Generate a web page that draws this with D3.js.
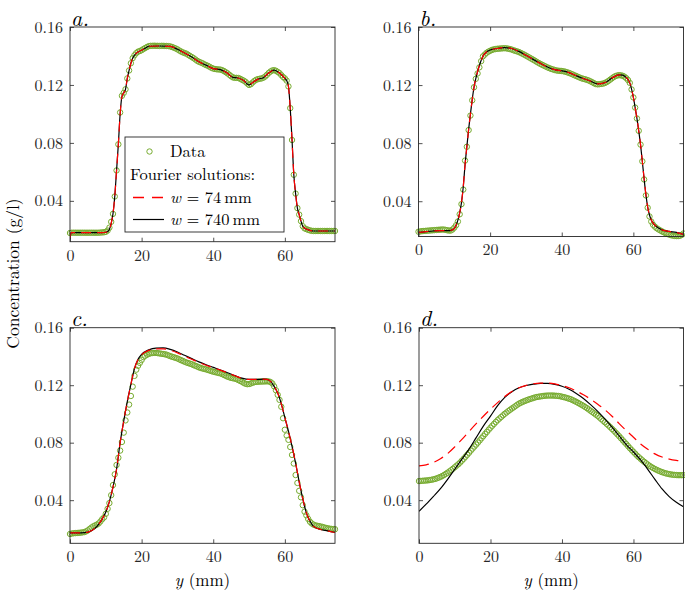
<!DOCTYPE html>
<html><head><meta charset="utf-8">
<script src="https://cdn.jsdelivr.net/npm/d3@7"></script>
<style>body{margin:0;background:#fff} svg{display:block}</style>
</head><body><svg id="fig" width="685" height="590"></svg>
<script>
// sampling positions (mm) of the measured profiles
const samplePositionsMm = d3.range(0, 74.001, 0.5);
const xTicks = [0, 20, 40, 60];
const yTicks = [0.04, 0.08, 0.12, 0.16];
const panelLetters = ["a.", "b.", "c.", "d."];
const legendLabels = ["Data", "Fourier solutions:", "74", "740"];

// measured concentration (g/l), one value per sample position
const dataA = [
.0178,.018,.018,.018,.018,.018,.018,.018,.018,.018,
.018,.018,.018,.018,.018,.018,.018,.0181,.0182,.0183,
.0186,.0195,.0215,.0255,.031,.043,.061,.079,.101,.1125,
.1145,.117,.1245,.130,.135,.1385,.1405,.142,.143,.1434,
.144,.1448,.1455,.1462,.1468,.147,.147,.1471,.147,.147,
.1469,.147,.147,.1469,.1469,.1468,.1466,.1462,.1457,.1452,
.1446,.1438,.1431,.1425,.142,.1416,.1408,.14,.1393,.1385,
.1376,.1367,.136,.1355,.135,.1343,.1337,.1332,.1325,.1318,
.1313,.131,.1308,.1307,.1306,.1302,.1296,.1288,.128,.127,
.126,.1252,.1249,.1249,.1248,.1243,.1236,.123,.1222,.121,
.12,.1205,.1217,.1228,.1236,.124,.1243,.1245,.125,.1258,
.127,.1283,.1293,.13,.1302,.1298,.129,.1282,.1268,.1255,
.1245,.123,.119,.104,.082,.058,.045,.035,.0305,.026,
.0225,.021,.0205,.02,.0196,.0193,.0192,.0192,.0192,.0192,
.0192,.0192,.0192,.0192,.0192,.0192,.0192,.0192,.0192];
const dataB = [
.019,.0192,.0194,.0195,.0196,.0197,.0198,.0199,.02,.0201,
.0202,.0203,.0204,.0205,.0205,.0203,.02,.0198,.0198,.0205,
.0218,.0235,.026,.031,.038,.048,.068,.0775,.089,.099,
.1095,.1185,.1243,.128,.1322,.1365,.1398,.141,.1422,.143,
.1436,.1442,.1446,.1448,.145,.1451,.1452,.1453,.1454,.1453,
.1451,.1448,.1445,.144,.1436,.1432,.1428,.1422,.1416,.141,
.1403,.1396,.1389,.1382,.1375,.1368,.136,.1353,.1346,.134,
.1334,.1328,.1322,.1317,.1312,.1308,.1304,.1301,.1299,.1298,
.1297,.1295,.1292,.1288,.1284,.1279,.1274,.1268,.1263,.1257,
.1252,.1247,.1243,.124,.1236,.1232,.1226,.122,.1213,.1207,
.1205,.1206,.1208,.121,.1214,.122,.1228,.1237,.1246,.1255,
.1262,.1266,.1268,.1267,.1264,.1258,.1248,.1235,.1215,.117,
.1115,.1045,.097,.0885,.079,.0675,.055,.044,.0355,.0295,
.026,.0238,.0225,.0214,.0206,.0199,.0192,.0186,.018,.0175,
.017,.0166,.0163,.0161,.016,.016,.0162,.0168,.0178];
const dataC = [
.0165,.0168,.017,.0171,.0172,.0173,.0174,.0176,.0178,.0183,
.019,.02,.021,.0218,.0224,.023,.0238,.0252,.0268,.028,
.0305,.034,.038,.0435,.0505,.058,.0645,.0695,.0745,.0805,
.087,.0955,.101,.1065,.1125,.119,.1265,.1308,.1335,.1355,
.1375,.1395,.1405,.1412,.1418,.1422,.1424,.1425,.1425,.1423,
.1421,.1419,.1417,.1415,.1412,.1407,.1402,.1398,.1394,.139,
.1386,.138,.1374,.1369,.1363,.1358,.1354,.135,.1346,.134,
.1335,.133,.1324,.132,.1316,.1313,.131,.1306,.1302,.1298,
.1294,.1291,.1288,.1285,.1282,.1277,.1271,.1265,.1259,.1255,
.1251,.1248,.1246,.1242,.1236,.123,.1224,.1216,.121,.1207,
.1208,.1212,.1217,.1221,.1223,.1224,.1225,.1225,.1226,.1226,
.1227,.1226,.1222,.1212,.1192,.1165,.1133,.1098,.105,.097,
.089,.085,.082,.077,.0715,.0655,.0575,.052,.0465,.042,
.0365,.032,.0295,.027,.025,.0238,.023,.0225,.0222,.022,
.0217,.0214,.021,.0207,.0204,.0202,.02,.0199,.0198];
const dataD = [
.0533,.0534,.0535,.0536,.0537,.0538,.054,.0542,.0545,.0548,
.0552,.0557,.0562,.0568,.0575,.0583,.0591,.06,.0609,.0619,
.0629,.064,.065,.0662,.0675,.0688,.0702,.0716,.073,.0745,
.0759,.0773,.0787,.0801,.0816,.0831,.0846,.0861,.0875,.089,
.0904,.0918,.0931,.0944,.0957,.0968,.0979,.099,.1001,.101,
.102,.1029,.1038,.1046,.1055,.1064,.1072,.1078,.1084,.1089,
.1094,.1099,.1103,.1107,.1111,.1115,.1118,.112,.1122,.1124,
.1126,.1127,.1128,.1128,.1128,.1128,.1127,.1126,.1125,.1123,
.112,.1117,.1114,.111,.1106,.1102,.1096,.109,.1084,.1077,
.107,.1063,.1056,.1048,.104,.1031,.1022,.1013,.1004,.0995,
.0986,.0975,.0964,.0953,.0942,.0931,.092,.0908,.0896,.0884,
.0871,.0858,.0845,.0831,.0817,.0803,.079,.0776,.0762,.0749,
.0736,.0723,.071,.0699,.0688,.0677,.0667,.0657,.0648,.0639,
.0631,.0624,.0617,.0611,.0605,.06,.0595,.0591,.0587,.0584,
.0581,.0579,.0577,.0576,.0575,.0574,.0574,.0574,.0574];

// Fourier solutions, [y (mm), concentration] knots
// panels a and b: w = 74 mm and w = 740 mm coincide
const fitA = [[0,.014],[0.3,.018],[1,.018],[9,.018],[10,.0183],[10.8,.0195],[11.5,.0245],[12,.031],[12.5,.043],[13,.061],[13.5,.079],[14,.1],[14.5,.112],[15,.1145],[15.5,.117],[16,.1245],[16.5,.13],[17,.135],[17.5,.1385],[18,.1405],[19,.1428],[20,.144],[21,.1453],[22,.1467],[25,.1469],[28,.1466],[30,.1446],[32,.142],[34,.1393],[36,.136],[38,.1337],[40,.1313],[42,.1306],[44,.128],[45.5,.1252],[47,.1248],[48.5,.123],[50,.12],[51,.1217],[52.5,.124],[54,.125],[55.5,.1283],[57,.1302],[58.5,.1282],[60,.1245],[60.5,.123],[61,.119],[61.5,.104],[62,.082],[62.5,.058],[63,.045],[63.5,.035],[64,.0305],[64.5,.026],[65,.0225],[66,.0205],[67,.0196],[68,.0192],[74,.0192]];
const fitB = [[0,.0185],[2,.019],[4,.0195],[6,.0198],[8,.0197],[9.5,.0203],[10.5,.0235],[11,.027],[11.5,.032],[12,.039],[12.5,.05],[13,.065],[13.5,.0775],[14,.0895],[14.5,.1],[15,.11],[15.5,.1185],[16,.1245],[17,.1335],[18,.1398],[19,.1428],[20,.1442],[22,.1452],[24,.1458],[26,.1452],[28,.1432],[30,.1405],[32,.1377],[34,.135],[36,.1325],[38,.1306],[40,.1298],[42,.1286],[44,.1265],[46,.1245],[48,.1228],[50,.1208],[52,.1216],[54,.1248],[56,.127],[57,.1268],[58,.1252],[58.5,.1238],[59,.1215],[59.5,.1172],[60,.1115],[60.5,.1045],[61,.097],[61.5,.0885],[62,.079],[62.5,.0675],[63,.0555],[63.5,.0445],[64,.036],[64.5,.0305],[65,.027],[66,.0235],[67,.0215],[68,.0203],[70,.0192],[72,.0185],[74,.0172]];
const fitC74 = [[0,.0172],[3,.0173],[5,.0178],[7,.0205],[8,.0232],[9,.027],[10,.0318],[11,.039],[12,.049],[13,.0615],[14,.08],[15,.095],[16,.1085],[17,.1205],[18,.1315],[19,.138],[20,.1412],[22,.1442],[24,.1453],[26,.1453],[28,.1443],[30,.1425],[32,.1402],[34,.138],[36,.1358],[38,.1339],[40,.1322],[42,.1305],[44,.1286],[46,.1266],[48,.1248],[50,.124],[52,.124],[54,.1242],[55,.124],[56,.1227],[57,.1192],[58,.1145],[59,.107],[60,.0975],[61,.088],[62,.0775],[63,.0658],[64,.0528],[65,.041],[66,.0312],[67,.0255],[68,.0218],[70,.0196],[72,.0187],[74,.0175]];
const fitC740 = [[0,.0172],[3,.0173],[5,.0178],[7,.0205],[8,.0232],[9,.027],[10,.0318],[11,.039],[12,.049],[13,.0615],[14,.08],[15,.095],[16,.1085],[17,.1205],[18,.1315],[19,.138],[20,.1414],[22,.1446],[24,.1458],[26,.1459],[28,.1449],[30,.1431],[32,.1408],[34,.1385],[36,.1362],[38,.1342],[40,.1324],[42,.1306],[44,.1287],[46,.1267],[48,.1249],[50,.124],[52,.124],[54,.1242],[55,.124],[56,.1227],[57,.1192],[58,.1145],[59,.107],[60,.0975],[61,.088],[62,.0775],[63,.0658],[64,.0528],[65,.041],[66,.0312],[67,.0255],[68,.0218],[70,.0196],[72,.0187],[74,.0175]];
const fitD74 = [[0,.0639],[2,.0646],[4,.0662],[6,.0688],[8,.0724],[10,.0771],[12,.0823],[14,.0878],[16,.0932],[18,.0984],[20,.1033],[22,.1079],[24,.1121],[26,.1156],[28,.1182],[30,.1199],[32,.121],[34,.1214],[36,.1214],[38,.1209],[40,.1197],[42,.1182],[44,.116],[46,.1133],[48,.1103],[50,.1068],[52,.1029],[54,.0984],[56,.0933],[58,.0884],[60,.0838],[62,.0791],[64,.0754],[66,.0722],[68,.07],[70,.0686],[72,.0677],[74,.0671]];
const fitD740 = [[0,.0323],[2,.0372],[4,.0425],[6,.048],[8,.0545],[10,.0615],[12,.0685],[14,.0755],[16,.0835],[18,.0915],[20,.0985],[22,.1058],[24,.1115],[26,.1155],[28,.1182],[30,.1198],[32,.1207],[34,.1212],[36,.1212],[38,.1206],[40,.1193],[42,.1172],[44,.1143],[46,.1108],[48,.1065],[50,.1018],[52,.0965],[54,.0908],[56,.0848],[58,.0787],[60,.0735],[62,.068],[64,.0615],[66,.0545],[68,.0478],[70,.0425],[72,.0385],[74,.0354]];

const series = [
  {data: dataA, fit74: fitA, fit740: fitA},
  {data: dataB, fit74: fitB, fit740: fitB},
  {data: dataC, fit74: fitC74, fit740: fitC740},
  {data: dataD, fit74: fitD74, fit740: fitD740}
];

// layout
const frames = [
  {left: 70,  right: 335,   top: 27,    bottom: 241.7, ymin: 0.0118, xlabel: false, legend: true},
  {left: 418.5, right: 683.5, top: 27,  bottom: 236.5, ymin: 0.0157, xlabel: false, legend: false},
  {left: 70,  right: 335,   top: 327.7, bottom: 543.3, ymin: 0.0100, xlabel: true, legend: false},
  {left: 419, right: 683.5, top: 327.7, bottom: 543.3, ymin: 0.0100, xlabel: true, legend: false}
];

const FONT = '"Latin Modern Roman"';
const GREEN = "#77AC30", AXC = "#262626";
const svg = d3.select("#fig");
const T = (sel, size) => sel.style("font-family", FONT).style("font-size", size + "px");

frames.forEach((f, i) => {
  const s = series[i];
  const g = svg.append("g");
  const x = d3.scaleLinear().domain([0, 74]).range([f.left, f.right]);
  const y = d3.scaleLinear().domain([f.ymin, 0.16]).range([f.bottom, f.top]);
  const clipId = "clip" + i;
  g.append("clipPath").attr("id", clipId).append("rect")
    .attr("x", f.left).attr("y", f.top).attr("width", f.right - f.left).attr("height", f.bottom - f.top);

  // data markers
  g.append("g").selectAll("circle")
    .data(samplePositionsMm.map((m, k) => [m, s.data[k]]))
    .join("circle")
    .attr("cx", d => x(d[0])).attr("cy", d => y(d[1])).attr("r", 2.7)
    .attr("fill", "none").attr("stroke", GREEN).attr("stroke-width", 1);

  const line = d3.line().x(d => x(d[0])).y(d => y(d[1])).curve(d3.curveMonotoneX);
  const lg = g.append("g").attr("clip-path", `url(#${clipId})`);
  lg.append("path").attr("d", line(s.fit740)).attr("fill", "none")
    .attr("stroke", "#000").attr("stroke-width", 1.2);
  lg.append("path").attr("d", line(s.fit74)).attr("fill", "none")
    .attr("stroke", "#ff0000").attr("stroke-width", 1.2).attr("stroke-dasharray", "10,6");

  // axes (ticks inside, mirrored)
  const fmtY = d3.format(".2f");
  const styleAxis = sel => {
    sel.select(".domain").remove();
    sel.selectAll(".tick line").attr("stroke", AXC).attr("stroke-width", 0.8);
    sel.selectAll(".tick text").attr("fill", AXC).call(T, 16);
  };
  g.append("g").attr("transform", `translate(${f.left},0)`)
    .call(d3.axisLeft(y).tickValues(yTicks).tickFormat(fmtY).tickSizeInner(-4).tickSizeOuter(0).tickPadding(7))
    .call(styleAxis);
  g.append("g").attr("transform", `translate(${f.right},0)`)
    .call(d3.axisRight(y).tickValues(yTicks).tickFormat("").tickSizeInner(-4).tickSizeOuter(0))
    .call(styleAxis);
  g.append("g").attr("transform", `translate(0,${f.bottom})`)
    .call(d3.axisBottom(x).tickValues(xTicks).tickFormat(d3.format("d")).tickSizeInner(-4).tickSizeOuter(0).tickPadding(7.5))
    .call(styleAxis);
  g.append("g").attr("transform", `translate(0,${f.top})`)
    .call(d3.axisTop(x).tickValues(xTicks).tickFormat("").tickSizeInner(-4).tickSizeOuter(0))
    .call(styleAxis);
  g.append("rect").attr("x", f.left).attr("y", f.top)
    .attr("width", f.right - f.left).attr("height", f.bottom - f.top)
    .attr("fill", "none").attr("stroke", AXC).attr("stroke-width", 0.9);

  // panel letter
  g.append("text").attr("x", f.left + 1).attr("y", f.top - 1.5)
    .call(T, 22).style("font-style", "italic").attr("fill", "#000")
    .text(panelLetters[i]);

  if (f.xlabel) {
    const t = g.append("text").attr("x", (f.left + f.right) / 2).attr("y", 586)
      .attr("text-anchor", "middle").call(T, 17).attr("fill", "#000");
    t.append("tspan").style("font-style", "italic").text("y");
    t.append("tspan").text(" (mm)");
  }

  if (f.legend) {
    const L = {x: 125, y: 137, w: 159, h: 95};
    const lgd = g.append("g");
    lgd.append("rect").attr("x", L.x).attr("y", L.y).attr("width", L.w).attr("height", L.h)
      .attr("fill", "#fff").attr("stroke", AXC).attr("stroke-width", 0.9);
    lgd.append("circle").attr("cx", 149.5).attr("cy", 151.5).attr("r", 2.7)
      .attr("fill", "none").attr("stroke", GREEN).attr("stroke-width", 1);
    lgd.append("text").attr("x", 170).attr("y", 157).call(T, 16.5).text(legendLabels[0]);
    lgd.append("text").attr("x", 130).attr("y", 180).call(T, 16.5).text(legendLabels[1]);
    lgd.append("line").attr("x1", 133).attr("x2", 164).attr("y1", 197.5).attr("y2", 197.5)
      .attr("stroke", "#ff0000").attr("stroke-width", 1.3).attr("stroke-dasharray", "11,8");
    lgd.append("line").attr("x1", 133).attr("x2", 164).attr("y1", 219.5).attr("y2", 219.5)
      .attr("stroke", "#000").attr("stroke-width", 1.2);
    [[203, legendLabels[2]], [225, legendLabels[3]]].forEach(([yy, val]) => {
      const t = lgd.append("text").attr("x", 170).attr("y", yy).call(T, 16.5);
      t.append("tspan").style("font-style", "italic").text("w");
      t.append("tspan").text(" = " + val);
      t.append("tspan").attr("dx", 3).text("mm");
    });
  }
});

// shared y-axis label
svg.append("text").attr("transform", "translate(19,273.5) rotate(-90)")
  .attr("text-anchor", "middle").call(T, 17.5)
  .attr("fill", "#000").text("Concentration (g/l)");
</script></body></html>
